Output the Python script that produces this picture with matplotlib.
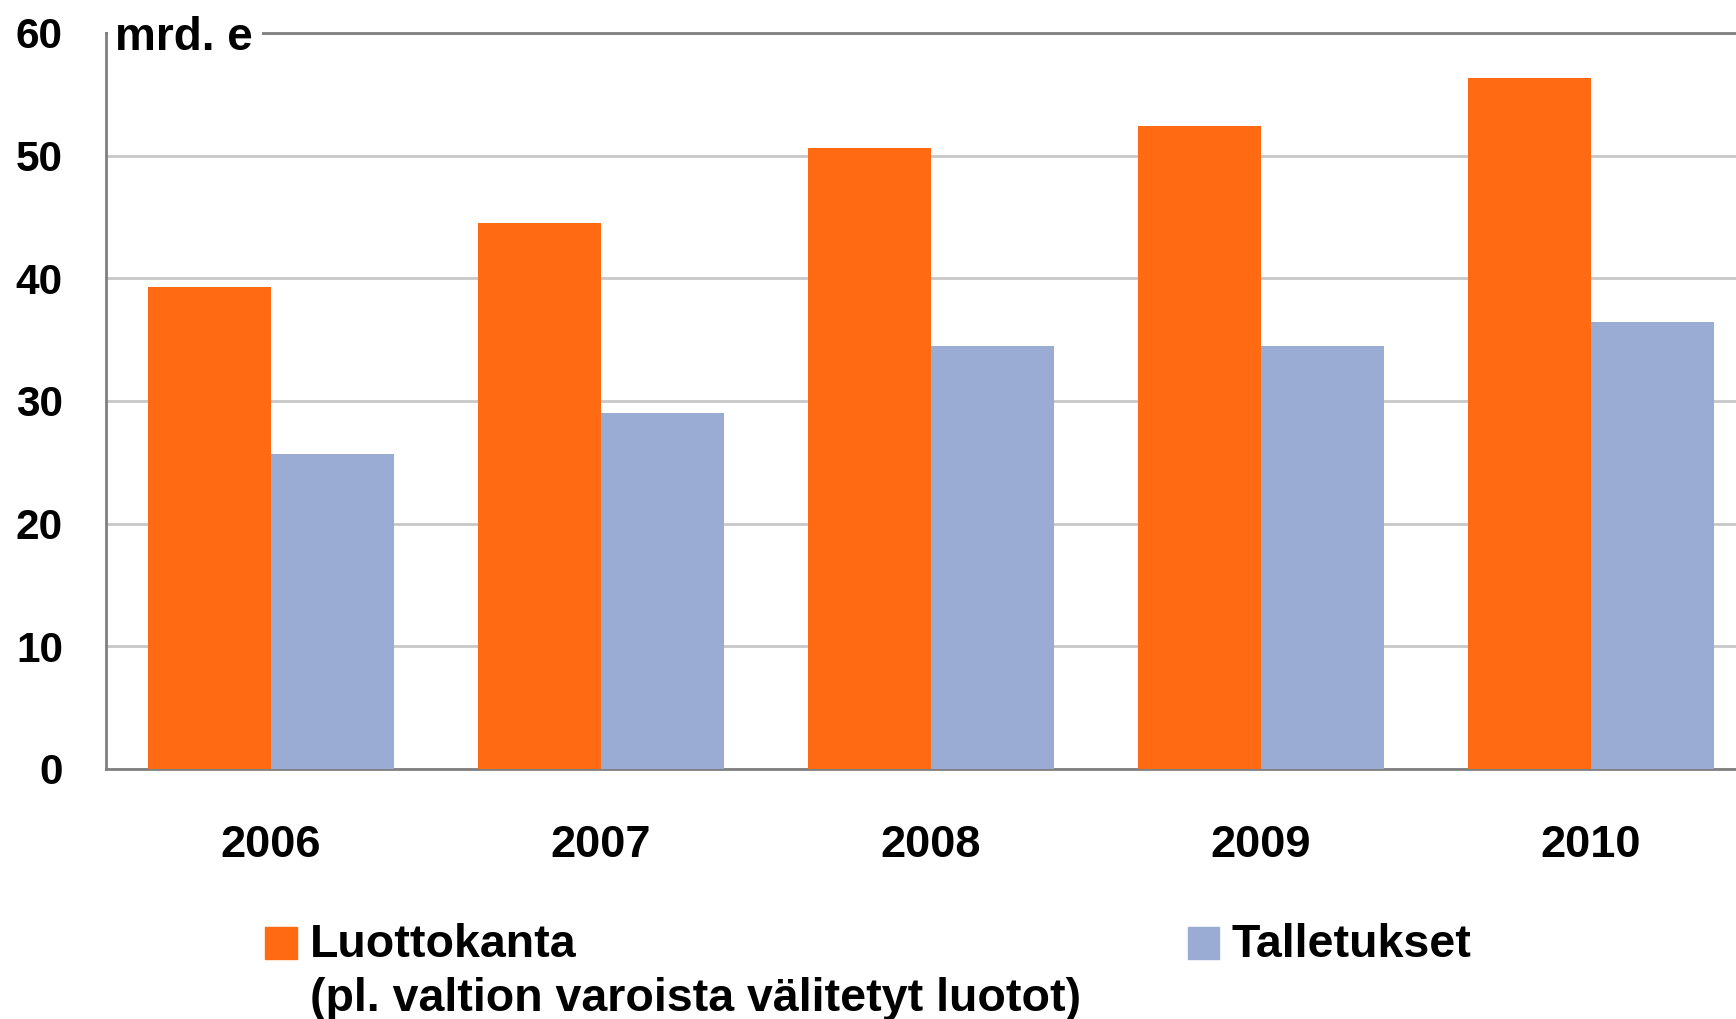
from matplotlib import pyplot as plt
from matplotlib.patches import Rectangle
import numpy as np

plt.rcParams['font.family'] = ['Liberation Sans', 'DejaVu Sans']
plt.rcParams['font.weight'] = 'bold'

years = ['2006', '2007', '2008', '2009', '2010']
luottokanta = [39.3, 44.5, 50.6, 52.4, 56.3]
talletukset = [25.7, 29.0, 34.5, 34.5, 36.4]
orange = '#FF6A12'
blue = '#9BACD4'

W, H = 1736, 1019
fig = plt.figure(figsize=(W / 100, H / 100), dpi=100)
ax = fig.add_axes([106 / W, 1 - 769 / H, 1 - 106 / W, (769 - 33) / H])

x = np.arange(len(years))
w = 0.373
ax.bar(x - w / 2, luottokanta, w, color=orange, zorder=3)
ax.bar(x + w / 2, talletukset, w, color=blue, zorder=3)

ax.set_xlim(-0.5, 4.44)
ax.set_ylim(0, 60)
ax.set_yticks(range(0, 61, 10))
ax.set_xticks(x)
ax.set_xticklabels(years)
ax.tick_params(axis='y', length=0, pad=31, labelsize=30.5)
ax.tick_params(axis='x', length=0, pad=40, labelsize=32.5)
ax.grid(axis='y', color='#c8c8c8', lw=2, zorder=0)

ax.spines['right'].set_visible(False)
for s in ['top', 'left', 'bottom']:
    ax.spines[s].set_color('#808080')
    ax.spines[s].set_linewidth(2)

# unit label sits on the top line, with white behind it
ax.add_patch(Rectangle((108 / W, 1 - 42 / H), 154 / W, 18 / H, transform=fig.transFigure,
                       fc='white', ec='none', zorder=4, clip_on=False))
fig.text(115 / W, 1 - 50 / H, 'mrd. e', fontsize=33, va='baseline', ha='left', zorder=5)

# legend drawn by hand
fig.patches.append(Rectangle((265 / W, 1 - 959 / H), 32 / W, 32 / H,
                             color=orange, transform=fig.transFigure))
fig.patches.append(Rectangle((1188 / W, 1 - 959 / H), 31 / W, 32 / H,
                             color=blue, transform=fig.transFigure))
fig.text(310 / W, 1 - 957 / H, 'Luottokanta', fontsize=33.5, va='baseline', ha='left')
fig.text(310 / W, 1 - 1011 / H, '(pl. valtion varoista välitetyt luotot)',
         fontsize=33.5, va='baseline', ha='left')
fig.text(1231 / W, 1 - 957 / H, 'Talletukset', fontsize=33.5, va='baseline', ha='left')

fig.savefig('out.png', dpi=100)
